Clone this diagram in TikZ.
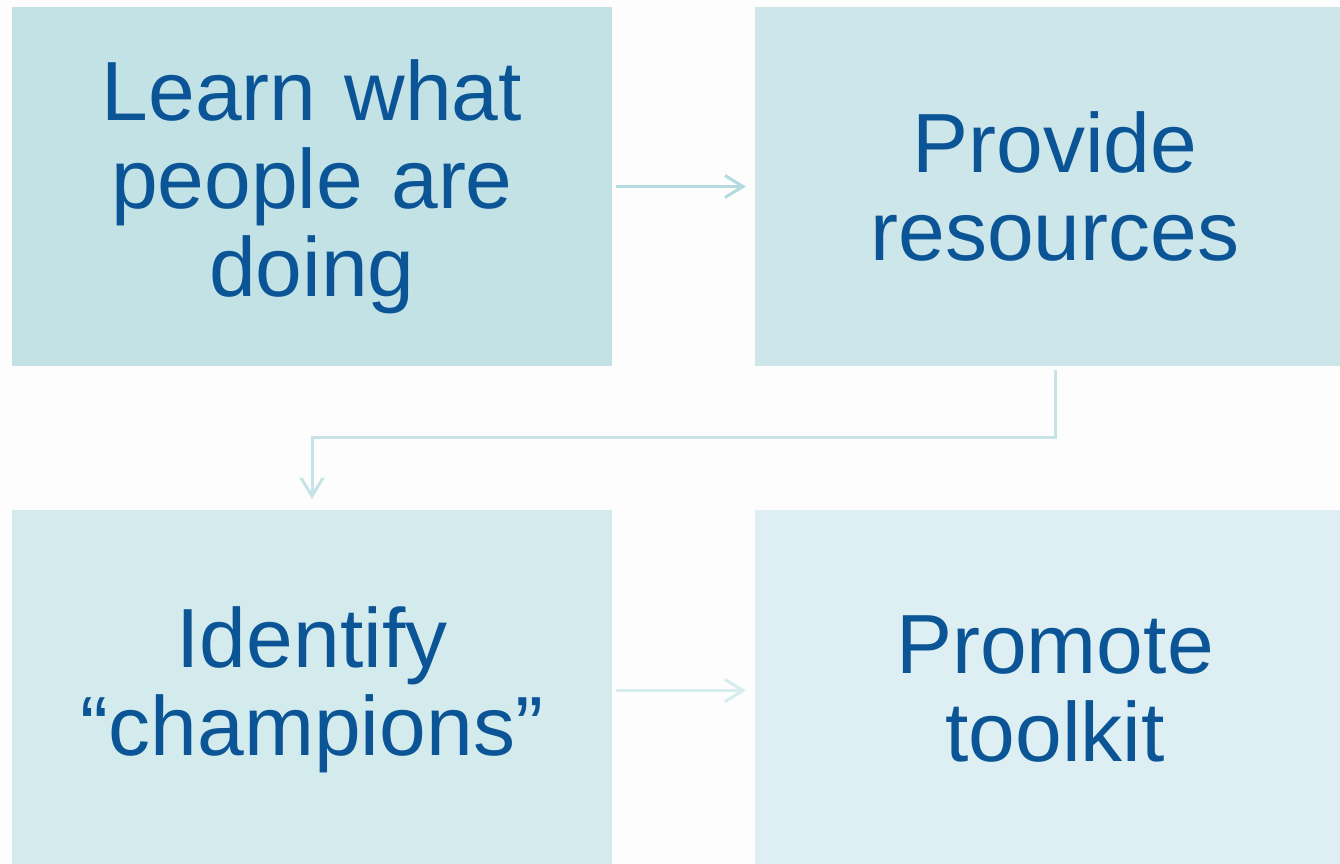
\documentclass[tikz,border=0pt]{standalone}
\usepackage{fontspec}
\setmainfont{Liberation Sans}
\usetikzlibrary{arrows.meta}
\definecolor{bg}{HTML}{FDFDFD}
\definecolor{boxA}{HTML}{C2E2E6}
\definecolor{boxB}{HTML}{CCE6EA}
\definecolor{boxC}{HTML}{D4EBEE}
\definecolor{boxD}{HTML}{DDEFF2}
\definecolor{txt}{HTML}{0B5596}
\definecolor{arrA}{HTML}{B4DBE0}
\definecolor{arrB}{HTML}{C6E3E7}
\definecolor{arrC}{HTML}{D6ECEF}
\tikzset{
  stepbox/.style={rectangle, minimum width=600pt, minimum height=359pt, inner sep=0pt,
    text width=560pt, align=center, text=txt,
    font=\fontsize{84pt}{88pt}\selectfont},
  flowarrow/.style={line width=3pt, -{Straight Barb[length=18pt,width=22pt]}}
}
\begin{document}
\begin{tikzpicture}[x=1pt,y=1pt]
\fill[bg] (0,0) rectangle (1340,-863);
\useasboundingbox (0,0) rectangle (1340,-863);
\clip (0,0) rectangle (1340,-863);
\node[stepbox, fill=boxA] (b1) at (312,-186.5) {Learn what\\people are\\doing};
\node[stepbox, fill=boxB] (b2) at (1055,-186.5) {Provide\\resources};
\node[stepbox, fill=boxC] (b3) at (312,-689.5) {Identify\\“champions”};
\node[stepbox, fill=boxD] (b4) at (1055,-689.5) {Promote\\toolkit};
\draw[flowarrow, arrA] ([xshift=4pt]b1.east) -- ([xshift=-9pt]b2.west);
\draw[flowarrow, arrB] ([yshift=-4pt]b2.south) -- ++(0,-67) -| ([yshift=11pt]b3.north);
\draw[flowarrow, arrC] ([xshift=4pt,yshift=-1pt]b3.east) -- ([xshift=-9pt,yshift=-1pt]b4.west);
\end{tikzpicture}
\end{document}
